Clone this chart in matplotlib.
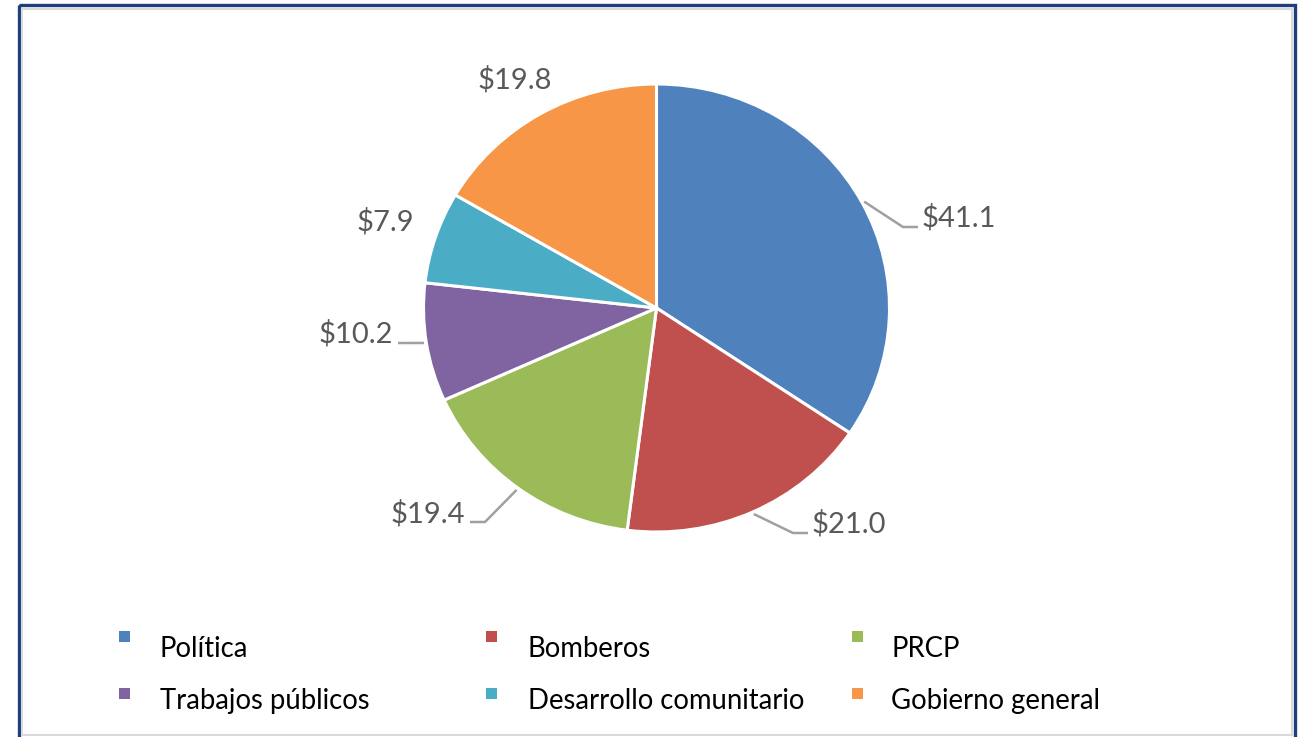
import numpy as np
import matplotlib.pyplot as plt
from matplotlib.patches import Rectangle

plt.rcParams['font.family'] = ['Lato', 'DejaVu Sans']

# data
categories = ["Política", "Bomberos", "PRCP", "Trabajos públicos",
              "Desarrollo comunitario", "Gobierno general"]
values = [41.1, 21.0, 19.4, 10.2, 7.9, 19.8]
colors = ["#4F81BD", "#C0504D", "#9BBB59", "#8064A2", "#4BACC6", "#F79646"]

W, H = 1307, 737
fig = plt.figure(figsize=(W / 100, H / 100), dpi=100)

# pixel-space overlay for border + legend
bg = fig.add_axes([0, 0, 1, 1])
bg.set_xlim(0, W)
bg.set_ylim(H, 0)
bg.axis('off')
bg.add_patch(Rectangle((18.5, 5), 1276, 760, fill=False, edgecolor="#1F3F7A", lw=2.4))
bg.add_patch(Rectangle((22, 8.5), 1269.5, 726.5, fill=False, edgecolor="#DADADA", lw=1.5))

# pie axes: centre (656.5, 308) px, radii 233 x 224 px
cx, cy, rx, ry = 656.5, 308, 233.0, 224.0
ax = fig.add_axes([0, 0, 1, 1])
ax.patch.set_alpha(0)
wedges, _ = ax.pie(values, colors=colors, startangle=90, counterclock=False,
                   radius=1.0, wedgeprops=dict(edgecolor="white", linewidth=2.2))
ax.set_aspect('auto')
ax.set_xlim(-cx / rx, (W - cx) / rx)
ax.set_ylim(-(H - cy) / ry, cy / ry)
ax.axis('off')

def px(x, y):
    return (x - cx) / rx, (cy - y) / ry

# label layout: (elbow, line end, text anchor, ha) in px; None = no leader line
layout = [
    ((903, 227), (918, 227), (922, 227), 'left'),
    ((793, 533), (808, 533), (812, 533), 'left'),
    ((485, 522), (470, 522), (465, 522), 'right'),
    ((410, 343), (398, 343), (393, 343), 'right'),
    (None, None, (385, 230), 'center'),
    (None, None, (515, 88), 'center'),
]

total = sum(values)
start = 90.0
for v, (elb, end, txt, ha) in zip(values, layout):
    span = v / total * 360
    mid = np.deg2rad(start - span / 2)
    start -= span
    if elb is not None:
        x0, y0 = np.cos(mid) * 1.01, np.sin(mid) * 1.01
        x1, y1 = px(*elb)
        x2, y2 = px(*end)
        ax.plot([x0, x1, x2], [y0, y1, y2], color="#A0A0A0", lw=1.8,
                solid_capstyle='butt', clip_on=False)
    tx, ty = px(*txt)
    ax.text(tx, ty, "$%.1f" % v, ha=ha, va='baseline', fontsize=21,
            color="#595959")

# legend
marker_x = [119, 486, 852]
text_x = [160, 528, 891]
marker_top = [631, 688]
text_base = [657, 709]
for i, (cat, col) in enumerate(zip(categories, colors)):
    r, c = divmod(i, 3)
    bg.add_patch(Rectangle((marker_x[c], marker_top[r]), 11, 11, facecolor=col,
                           edgecolor='none'))
    bg.text(text_x[c], text_base[r], cat, ha='left', va='baseline',
            fontsize=19.8, color="black")

fig.savefig("out.png", dpi=100)
